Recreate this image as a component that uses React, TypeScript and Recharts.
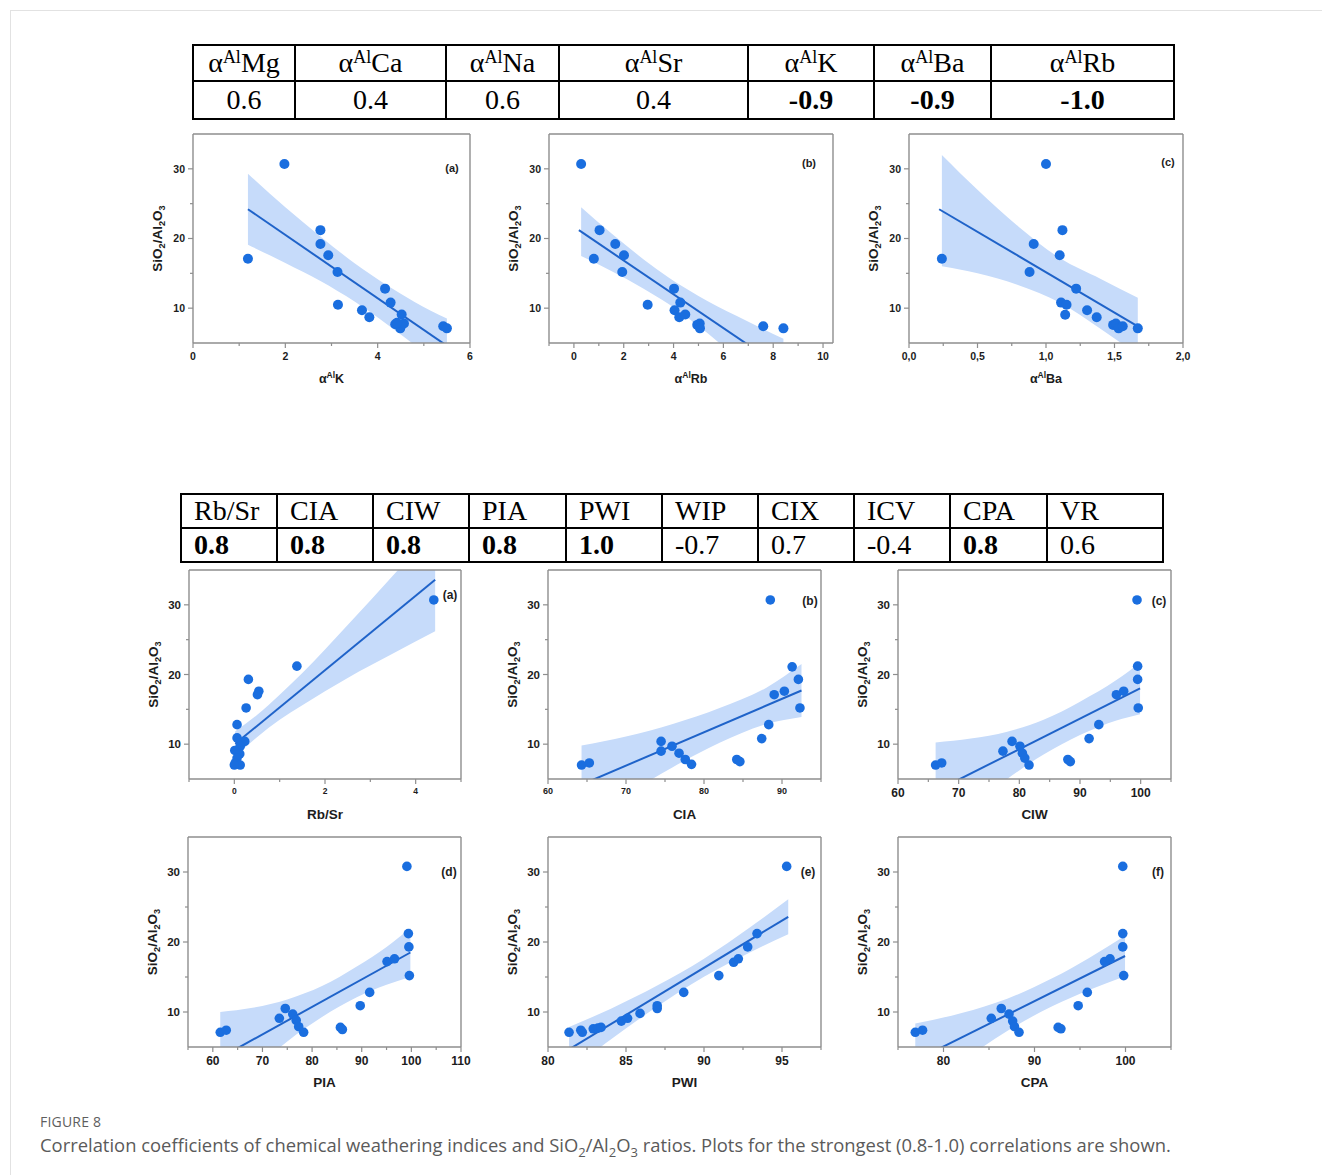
import React from 'react';
import { ComposedChart, Scatter, Line, Area, XAxis, YAxis, ReferenceLine } from 'recharts';

const FRAME = '#8e8e8e';
const DOT = '#1a6edf';
const FIT = '#1f63c9';
const BAND = '#c6dbfa';
const INK = '#1c1c1c';
const SANS = '"Liberation Sans", Arial, sans-serif';
const SERIF = '"Liberation Serif", "Times New Roman", serif';

// correlation tables
const topHeads = [['Mg'], ['Ca'], ['Na'], ['Sr'], ['K'], ['Ba'], ['Rb']];
const topVals = ['0.6', '0.4', '0.6', '0.4', '-0.9', '-0.9', '-1.0'];
const topBold = [false, false, false, false, true, true, true];
const topCols = [102, 151, 113, 189, 126, 117, 183];

const botHeads = ['Rb/Sr', 'CIA', 'CIW', 'PIA', 'PWI', 'WIP', 'CIX', 'ICV', 'CPA', 'VR'];
const botVals = ['0.8', '0.8', '0.8', '0.8', '1.0', '-0.7', '0.7', '-0.4', '0.8', '0.6'];
const botBold = [true, true, true, true, true, false, false, false, true, false];
const botCols = [96, 96, 96, 97, 96, 96, 96, 96, 97, 116];

// shared y axis
const yDomain: [number, number] = [5, 35];
const yMajor = [10, 20, 30];
const yMinor = [15, 25];

// αAlK
const kPts = [[1.98, 30.7], [1.19, 17.1], [2.76, 21.2], [2.76, 19.2], [2.93, 17.6], [3.13, 15.2], [3.14, 10.5], [3.66, 9.7], [3.82, 8.7], [4.16, 12.8], [4.28, 10.8], [4.38, 7.7], [4.52, 9.1], [4.49, 7.1], [4.57, 7.8], [4.42, 7.9], [5.42, 7.4], [5.5, 7.1]];
const kFit = [[1.19, 24.2], [5.5, 4.6]];
const kBand = [[1.19, 19.1, 29.3], [2.0, 16.5, 24.5], [2.76, 13.9, 20.3], [3.5, 10.95, 16.45], [4.2, 7.7, 13.3], [4.8, 4.7, 10.9], [5.5, 0.7, 8.5]];

// αAlRb
const rbPts = [[0.29, 30.7], [1.03, 21.2], [1.66, 19.2], [0.8, 17.1], [2.01, 17.6], [1.94, 15.2], [2.96, 10.5], [4.02, 12.8], [4.04, 9.7], [4.27, 10.8], [4.23, 8.7], [4.47, 9.1], [4.95, 7.6], [5.05, 7.8], [5.06, 7.1], [7.6, 7.4], [8.41, 7.1]];
const rbFit = [[0.2, 21.2], [8.41, 1.3]];
const rbBand = [[0.29, 17.5, 24.5], [1.5, 15.35, 20.75], [2.8, 12.8, 17.0], [3.8, 10.6, 14.4], [5.0, 7.45, 11.75], [6.5, 2.97, 8.93], [8.41, -3.0, 5.6]];

// αAlBa
const baPts = [[0.24, 17.1], [1.0, 30.7], [0.91, 19.2], [0.88, 15.2], [1.12, 21.2], [1.1, 17.6], [1.22, 12.8], [1.11, 10.8], [1.15, 10.5], [1.14, 9.05], [1.3, 9.7], [1.37, 8.7], [1.49, 7.6], [1.51, 7.8], [1.53, 7.1], [1.56, 7.4], [1.67, 7.1]];
const baFit = [[0.22, 24.2], [1.67, 7.4]];
const baBand = [[0.24, 16.0, 32.0], [0.5, 15.0, 27.0], [0.8, 13.3, 21.7], [1.1, 10.8, 17.2], [1.4, 7.0, 14.2], [1.67, 3.3, 11.5]];

// Rb/Sr
const rsPts = [[4.4, 30.7], [1.38, 21.2], [0.31, 19.3], [0.54, 17.6], [0.51, 17.1], [0.26, 15.2], [0.06, 12.8], [0.06, 10.9], [0.23, 10.4], [0.13, 9.7], [0.01, 9.1], [0.12, 8.6], [0.06, 8.0], [0.02, 7.3], [0.13, 7.0], [0.0, 7.0]];
const rsFit = [[0.02, 10.05], [4.43, 33.6]];
const rsBand = [[0.02, 8.25, 11.85], [0.5, 11.0, 14.2], [1.0, 13.5, 17.1], [1.5, 15.6, 20.2], [2.5, 19.5, 27.1], [3.5, 23.0, 34.2], [4.43, 26.2, 41.0]];

// CIA
const ciaPts = [[64.3, 7.0], [65.3, 7.3], [74.5, 10.4], [74.5, 9.0], [75.9, 9.7], [76.8, 8.7], [77.6, 7.8], [78.4, 7.1], [84.2, 7.8], [84.6, 7.5], [87.4, 10.8], [88.3, 12.8], [88.5, 30.7], [89.0, 17.1], [90.3, 17.6], [91.3, 21.1], [92.1, 19.3], [92.3, 15.2]];
const ciaFit = [[64.3, 4.19], [92.5, 17.7]];
const ciaBand = [[64.3, -1.4, 9.8], [70, 2.7, 11.1], [76, 6.7, 12.9], [82, 10.2, 15.2], [88, 12.9, 18.1], [92.5, 13.9, 21.5]];

// CIW
const ciwPts = [[66.2, 7.0], [67.2, 7.3], [77.3, 9.0], [78.8, 10.4], [80.1, 9.7], [80.5, 8.7], [80.9, 8.0], [81.6, 7.0], [88.0, 7.8], [88.4, 7.5], [91.5, 10.8], [93.1, 12.8], [96.0, 17.1], [97.2, 17.6], [99.4, 30.7], [99.5, 21.2], [99.5, 19.3], [99.6, 15.2]];
const ciwFit = [[66.2, 3.25], [99.9, 18.0]];
const ciwBand = [[66.2, -3.75, 10.25], [72, 0.8, 10.8], [78, 5.0, 11.8], [84, 8.5, 13.5], [90, 11.3, 16.1], [96, 13.4, 19.2], [99.9, 14.3, 21.7]];

// PIA
const piaPts = [[61.5, 7.1], [62.7, 7.4], [73.4, 9.1], [74.6, 10.5], [76.1, 9.7], [76.8, 8.8], [77.3, 7.9], [78.3, 7.1], [85.7, 7.8], [86.1, 7.5], [89.7, 10.9], [91.6, 12.8], [95.1, 17.2], [96.6, 17.6], [99.1, 30.8], [99.4, 21.2], [99.5, 19.3], [99.6, 15.2]];
const piaFit = [[61.5, 3.47], [99.8, 18.5]];
const piaBand = [[61.5, -3.0, 10.0], [68, 1.4, 10.6], [75, 5.8, 11.8], [82, 9.3, 13.7], [89, 12.1, 16.5], [95, 13.9, 19.3], [99.8, 15.0, 22.0]];

// PWI
const pwiPts = [[81.35, 7.1], [82.1, 7.4], [82.2, 7.1], [82.9, 7.6], [83.2, 7.7], [83.4, 7.8], [84.7, 8.7], [85.1, 9.1], [85.9, 9.8], [87.0, 10.5], [87.0, 10.9], [88.7, 12.8], [90.95, 15.2], [91.9, 17.1], [92.2, 17.6], [92.8, 19.3], [93.4, 21.2], [95.3, 30.8]];
const pwiFit = [[81.35, 4.66], [95.4, 23.6]];
const pwiBand = [[81.35, 1.46, 7.86], [84, 6.04, 10.44], [87, 10.78, 13.78], [90, 15.02, 17.62], [93, 18.57, 22.17], [95.4, 21.1, 26.1]];

// CPA
const cpaPts = [[76.9, 7.1], [77.7, 7.4], [85.25, 9.1], [86.35, 10.5], [87.2, 9.7], [87.6, 8.7], [87.8, 7.9], [88.3, 7.1], [92.6, 7.8], [92.9, 7.6], [94.8, 10.9], [95.8, 12.8], [97.7, 17.2], [98.3, 17.6], [99.7, 30.8], [99.7, 21.2], [99.7, 19.3], [99.8, 15.2]];
const cpaFit = [[76.9, 3.06], [99.95, 18.0]];
const cpaBand = [[76.9, -2.24, 8.36], [82, 2.86, 9.86], [87, 7.3, 11.9], [92, 10.84, 14.84], [96, 13.13, 17.73], [99.95, 15.1, 20.9]];

const PL = 62;
const PT = 6;
const PR = 12;
const PB = 52;
const Y_TITLE = 13.5;

type Title = { pre: string; sup?: string; post?: string };

type PanelProps = {
  left: number; top: number; w: number; h: number;
  xDomain: [number, number]; xMajor: number[]; xMinor: number[];
  pts: number[][]; fit: number[][]; band: number[][];
  title: Title; tag: string; tagX: number; tagY: number;
  xTick: number; yTick: number; titleSize: number; tagSize: number; r: number;
  fmt?: (v: number) => string;
};

const isIn = (arr: number[], v: number) => arr.some((m) => Math.abs(m - v) < 1e-9);

function Panel(p: PanelProps) {
  const pts = p.pts.map(([x, y]) => ({ x, y }));
  const fit = p.fit.map(([x, y]) => ({ x, y }));
  const band = p.band.map(([x, lo, hi]) => ({ x, band: [lo, hi] }));
  const fmt = p.fmt ?? ((v: number) => String(v));
  const W = p.w + PL + PR;
  const H = p.h + PT + PB;
  const ox = p.left - PL;
  const oy = p.top - PT;

  const xTickEl = (t: any) => {
    const major = isIn(p.xMajor, t.payload.value);
    return (
      <g>
        <line x1={t.x} y1={t.y} x2={t.x} y2={t.y + (major ? 5 : 3)} stroke={FRAME} strokeWidth={1.2} />
        {major && (
          <text x={t.x} y={t.y + 9 + p.xTick * 0.72} textAnchor="middle" fontFamily={SANS} fontWeight="bold" fontSize={p.xTick} fill={INK}>
            {fmt(t.payload.value)}
          </text>
        )}
      </g>
    );
  };

  const yTickEl = (t: any) => {
    const major = isIn(yMajor, t.payload.value);
    return (
      <g>
        <line x1={t.x - (major ? 5 : 3)} y1={t.y} x2={t.x} y2={t.y} stroke={FRAME} strokeWidth={1.2} />
        {major && (
          <text x={t.x - 8} y={t.y + p.yTick * 0.36} textAnchor="end" fontFamily={SANS} fontWeight="bold" fontSize={p.yTick} fill={INK}>
            {t.payload.value}
          </text>
        )}
      </g>
    );
  };

  const ys = Y_TITLE;
  const sub = ys * 0.26;
  const yTitle = () => {
    const cx = PL - 36;
    const cy = PT + p.h / 2;
    return (
      <g>
        <text x={cx} y={cy + ys * 0.36} transform={`rotate(-90 ${cx} ${cy})`} textAnchor="middle" fontFamily={SANS} fontWeight="bold" fontSize={ys} fill={INK}>
          SiO<tspan dy={sub} fontSize={ys * 0.68}>2</tspan>
          <tspan dy={-sub}>/Al</tspan>
          <tspan dy={sub} fontSize={ys * 0.68}>2</tspan>
          <tspan dy={-sub}>O</tspan>
          <tspan dy={sub} fontSize={ys * 0.68}>3</tspan>
        </text>
        <text x={p.tagX - ox} y={p.tagY - oy + p.tagSize * 0.36} textAnchor="middle" fontFamily={SANS} fontWeight="bold" fontSize={p.tagSize} fill={INK}>
          {p.tag}
        </text>
      </g>
    );
  };

  const ts = p.titleSize;
  const xTitle = () => (
    <text x={PL + p.w / 2} y={PT + p.h + 35 + ts * 0.36} textAnchor="middle" fontFamily={SANS} fontWeight="bold" fontSize={ts} fill={INK}>
      {p.title.pre}
      {p.title.sup && (
        <tspan dy={-ts * 0.38} fontSize={ts * 0.68}>
          {p.title.sup}
        </tspan>
      )}
      {p.title.post && <tspan dy={ts * 0.38}>{p.title.post}</tspan>}
    </text>
  );

  return (
    <div style={{ position: 'absolute', left: ox, top: oy, width: W, height: H }}>
      <ComposedChart width={W} height={H} margin={{ top: PT, right: PR, bottom: 0, left: 0 }}>
        <XAxis
          type="number"
          dataKey="x"
          domain={p.xDomain}
          allowDataOverflow
          ticks={[...p.xMajor, ...p.xMinor].sort((a, b) => a - b)}
          interval={0}
          tickSize={0}
          tickMargin={0}
          height={PB}
          axisLine={{ stroke: FRAME, strokeWidth: 1.4 }}
          tickLine={false}
          tick={xTickEl}
          label={{ content: xTitle }}
        />
        <YAxis
          type="number"
          dataKey="y"
          domain={yDomain}
          allowDataOverflow
          ticks={[...yMajor, ...yMinor].sort((a, b) => a - b)}
          interval={0}
          tickSize={0}
          tickMargin={0}
          width={PL}
          axisLine={{ stroke: FRAME, strokeWidth: 1.4 }}
          tickLine={false}
          tick={yTickEl}
          label={{ content: yTitle }}
        />
        <ReferenceLine x={p.xDomain[1]} stroke={FRAME} strokeWidth={1.4} />
        <ReferenceLine y={yDomain[1]} stroke={FRAME} strokeWidth={1.4} />
        <Area data={band} dataKey="band" type="monotone" stroke="none" fill={BAND} fillOpacity={1} isAnimationActive={false} />
        <Line data={fit} dataKey="y" type="linear" stroke={FIT} strokeWidth={2} dot={false} activeDot={false} isAnimationActive={false} />
        <Scatter
          data={pts}
          isAnimationActive={false}
          shape={(s: any) => <circle cx={s.cx} cy={s.cy} r={p.r} fill={DOT} />}
        />
      </ComposedChart>
    </div>
  );
}

const comma = (v: number) => v.toFixed(1).replace('.', ',');

const cell: React.CSSProperties = { border: '2px solid #000', padding: 0 };

function TopTable() {
  return (
    <table style={{ position: 'absolute', left: 192, top: 44, borderCollapse: 'collapse', tableLayout: 'fixed', fontFamily: SERIF, fontSize: 28, color: '#000' }}>
      <colgroup>
        {topCols.map((w, i) => <col key={i} style={{ width: w }} />)}
      </colgroup>
      <tbody>
        <tr style={{ height: 36 }}>
          {topHeads.map(([el], i) => (
            <td key={i} style={{ ...cell, textAlign: 'center', lineHeight: '30px' }}>
              α<span style={{ fontSize: 18, verticalAlign: 9, lineHeight: 0 }}>Al</span>{el}
            </td>
          ))}
        </tr>
        <tr style={{ height: 38 }}>
          {topVals.map((v, i) => (
            <td key={i} style={{ ...cell, textAlign: 'center', fontWeight: topBold[i] ? 'bold' : 'normal', lineHeight: '32px' }}>
              {v}
            </td>
          ))}
        </tr>
      </tbody>
    </table>
  );
}

function BottomTable() {
  return (
    <table style={{ position: 'absolute', left: 180, top: 493, borderCollapse: 'collapse', tableLayout: 'fixed', fontFamily: SERIF, fontSize: 28, color: '#000' }}>
      <colgroup>
        {botCols.map((w, i) => <col key={i} style={{ width: w }} />)}
      </colgroup>
      <tbody>
        <tr style={{ height: 34 }}>
          {botHeads.map((h, i) => (
            <td key={i} style={{ ...cell, paddingLeft: 12, lineHeight: '30px' }}>{h}</td>
          ))}
        </tr>
        <tr style={{ height: 34 }}>
          {botVals.map((v, i) => (
            <td key={i} style={{ ...cell, paddingLeft: 12, lineHeight: '30px', fontWeight: botBold[i] ? 'bold' : 'normal' }}>
              {v}
            </td>
          ))}
        </tr>
      </tbody>
    </table>
  );
}

export default function App() {
  const r1 = { top: 134, h: 209, xTick: 10.5, yTick: 10.5, titleSize: 12.5, tagSize: 11, r: 5 };
  const r2 = { top: 570, h: 209, yTick: 11.5, titleSize: 13.5, tagSize: 12, r: 4.8 };
  const r3 = { top: 837, h: 210, yTick: 11.5, titleSize: 13.5, tagSize: 12, r: 4.8, xTick: 12 };
  return (
    <div style={{ position: 'absolute', left: 0, top: 0, width: 1322, height: 1175, background: '#fff', overflow: 'hidden' }}>
      <div style={{ position: 'absolute', left: 10, top: 10, width: 1400, height: 1300, borderLeft: '1px solid #e2e2e2', borderTop: '1px solid #e2e2e2' }} />
      <TopTable />
      <Panel {...r1} left={193} w={277} xDomain={[0, 6]} xMajor={[0, 2, 4, 6]} xMinor={[1, 3, 5]} pts={kPts} fit={kFit} band={kBand} title={{ pre: 'α', sup: 'Al', post: 'K' }} tag="(a)" tagX={452} tagY={168} />
      <Panel {...r1} left={549} w={284} xDomain={[-1, 10.4]} xMajor={[0, 2, 4, 6, 8, 10]} xMinor={[-1, 1, 3, 5, 7, 9]} pts={rbPts} fit={rbFit} band={rbBand} title={{ pre: 'α', sup: 'Al', post: 'Rb' }} tag="(b)" tagX={809} tagY={163} />
      <Panel {...r1} left={909} w={274} xDomain={[0, 2]} xMajor={[0, 0.5, 1, 1.5, 2]} xMinor={[0.25, 0.75, 1.25, 1.75]} pts={baPts} fit={baFit} band={baBand} title={{ pre: 'α', sup: 'Al', post: 'Ba' }} tag="(c)" tagX={1168} tagY={162} fmt={comma} />
      <BottomTable />
      <Panel {...r2} left={189} w={272} xTick={8.5} xDomain={[-1, 5]} xMajor={[0, 2, 4]} xMinor={[-1, 1, 3, 5]} pts={rsPts} fit={rsFit} band={rsBand} title={{ pre: 'Rb/Sr' }} tag="(a)" tagX={450} tagY={595} />
      <Panel {...r2} left={548} w={273} xTick={9} xDomain={[60, 95]} xMajor={[60, 70, 80, 90]} xMinor={[65, 75, 85, 95]} pts={ciaPts} fit={ciaFit} band={ciaBand} title={{ pre: 'CIA' }} tag="(b)" tagX={810} tagY={601} />
      <Panel {...r2} left={898} w={273} xTick={12} xDomain={[60, 105]} xMajor={[60, 70, 80, 90, 100]} xMinor={[65, 75, 85, 95, 105]} pts={ciwPts} fit={ciwFit} band={ciwBand} title={{ pre: 'CIW' }} tag="(c)" tagX={1159} tagY={601} />
      <Panel {...r3} left={188} w={273} xDomain={[55, 110]} xMajor={[60, 70, 80, 90, 100, 110]} xMinor={[55, 65, 75, 85, 95, 105]} pts={piaPts} fit={piaFit} band={piaBand} title={{ pre: 'PIA' }} tag="(d)" tagX={449} tagY={872} />
      <Panel {...r3} left={548} w={273} xDomain={[80, 97.5]} xMajor={[80, 85, 90, 95]} xMinor={[82.5, 87.5, 92.5, 97.5]} pts={pwiPts} fit={pwiFit} band={pwiBand} title={{ pre: 'PWI' }} tag="(e)" tagX={808} tagY={872} />
      <Panel {...r3} left={898} w={273} xDomain={[75, 105]} xMajor={[80, 90, 100]} xMinor={[75, 85, 95, 105]} pts={cpaPts} fit={cpaFit} band={cpaBand} title={{ pre: 'CPA' }} tag="(f)" tagX={1158} tagY={872} />
      <div style={{ position: 'absolute', left: 40, top: 1112, fontFamily: '"Open Sans", sans-serif', fontSize: 14, color: '#5e5e5e', letterSpacing: 0.2 }}>
        FIGURE 8
      </div>
      <div style={{ position: 'absolute', left: 40, top: 1132, fontFamily: '"Open Sans", sans-serif', fontSize: 18.4, color: '#5a5a5a', whiteSpace: 'nowrap' }}>
        Correlation coefficients of chemical weathering indices and SiO<sub style={{ fontSize: 13 }}>2</sub>/Al<sub style={{ fontSize: 13 }}>2</sub>O<sub style={{ fontSize: 13 }}>3</sub> ratios. Plots for the strongest (0.8-1.0) correlations are shown.
      </div>
    </div>
  );
}
